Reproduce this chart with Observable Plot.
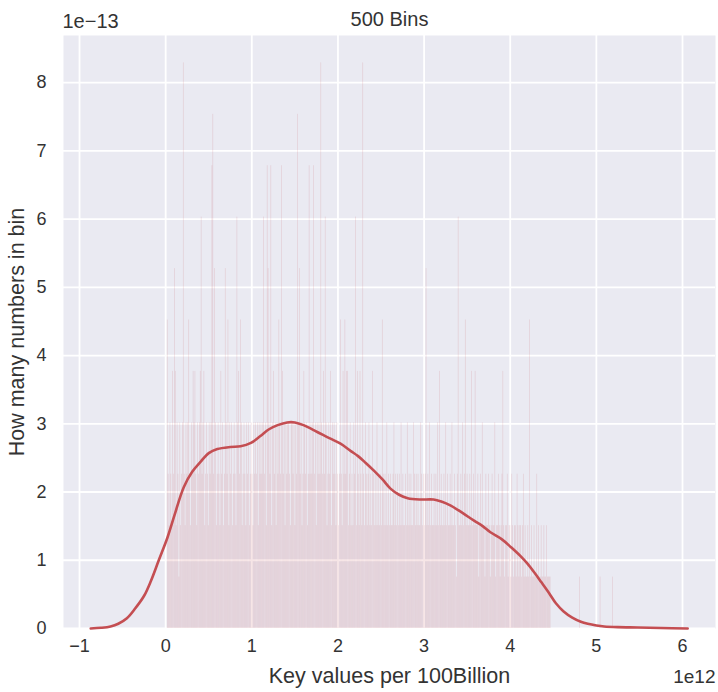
<!DOCTYPE html>
<html><head><meta charset="utf-8">
<script src="https://cdn.jsdelivr.net/npm/d3@7"></script>
<script src="https://cdn.jsdelivr.net/npm/@observablehq/plot@0.6"></script>
<style>body{margin:0;background:#fff}#chart svg{display:block}</style>
</head><body><div id="chart"></div>
<script>
// ---- text ----
const titleText = "500 Bins";
const xLabel = "Key values per 100Billion";
const yLabel = "How many numbers in bin";
const xOffsetText = "1e12";
const yOffsetText = "1e\u221213";

// ---- tick values (x in units of 1e12, y in units of 1e-13) ----
const xTicks = [-1, 0, 1, 2, 3, 4, 5, 6];
const yTicks = [0, 1, 2, 3, 4, 5, 6, 7, 8];

// ---- histogram: 500 bins between data min and max (units of 1e12) ----
const binLow = 0.02;
const binHigh = 5.2;
const densityPerCount = 0.7535; // density of one count, units of 1e-13
const binCounts = [
  6,3,2,4,3,2,5,3,7,5,2,4,3,1,4,2,3,4,11,3,
  2,4,3,4,6,3,2,4,3,5,4,5,3,2,4,3,4,5,8,3,
  4,5,2,3,4,3,2,4,3,4,9,10,3,7,4,2,3,4,3,2,
  5,3,4,2,3,7,4,3,6,2,4,3,4,2,3,4,3,2,8,4,
  5,3,6,4,2,3,4,3,2,4,3,4,2,3,4,3,2,4,3,4,
  3,4,2,4,3,4,3,4,8,3,4,2,9,7,4,3,9,2,4,5,
  3,4,2,4,3,6,4,3,9,5,3,4,2,4,3,4,4,3,2,4,
  4,3,4,2,4,3,10,4,7,3,4,2,3,5,4,3,4,2,3,9,
  3,4,3,4,9,3,4,2,4,3,4,3,11,4,3,5,3,8,4,2,
  3,4,3,5,2,4,3,4,3,2,4,3,2,3,6,3,2,5,3,6,
  3,5,5,2,3,4,2,3,2,4,3,8,2,5,3,2,5,3,2,11,
  3,2,4,3,2,3,4,2,3,2,5,3,2,3,2,4,2,3,2,3,
  2,6,3,2,3,2,4,2,3,2,3,2,2,3,4,2,3,2,3,2,
  3,2,4,2,3,2,2,3,2,4,2,3,2,3,2,2,4,3,2,3,
  2,3,2,2,4,3,2,3,2,3,7,2,3,2,4,2,3,2,2,3,
  2,3,2,4,2,5,2,3,2,2,3,2,4,2,3,2,2,3,2,4,
  2,2,3,2,1,3,8,2,2,3,2,4,2,3,6,2,3,2,2,3,
  2,5,2,3,2,5,2,2,3,1,2,3,2,4,2,2,1,3,2,2,
  3,2,1,2,3,2,2,4,1,2,2,3,2,1,2,3,5,2,1,2,
  2,3,1,2,2,1,3,2,1,2,2,1,3,2,1,2,2,1,2,3,
  1,2,1,1,2,1,6,1,2,1,1,2,1,1,3,1,2,1,1,2,
  1,1,2,1,1,2,1,1,1,1,0,0,0,0,0,0,0,0,0,0,
  0,0,0,0,0,0,0,0,0,0,0,0,0,0,0,0,0,0,0,0,
  0,0,1,0,0,0,0,0,0,0,0,0,0,0,0,0,0,0,0,0,
  0,0,0,0,0,1,0,0,0,0,0,0,0,0,0,0,0,0,0,1
];

// ---- KDE curve (x in 1e12, density in 1e-13) ----
const kdeX = [-0.87,-0.75,-0.64,-0.55,-0.45,-0.35,-0.25,-0.17,-0.08,0.02,0.1,0.21,0.31,0.41,0.5,0.6,0.75,0.87,0.99,1.1,1.2,1.3,1.41,1.5,1.6,1.76,1.9,2.03,2.15,2.23,2.32,2.42,2.52,2.61,2.71,2.81,2.95,3.11,3.2,3.31,3.45,3.58,3.68,3.77,3.9,4.01,4.12,4.2,4.28,4.36,4.45,4.53,4.62,4.72,4.82,4.9,5.0,5.09,5.25,5.48,5.75,6.06];
const kdeY = [0,0.01,0.03,0.07,0.15,0.3,0.48,0.70,1.0,1.33,1.65,2.07,2.3,2.45,2.57,2.63,2.66,2.67,2.72,2.82,2.92,2.98,3.02,3.02,2.98,2.88,2.79,2.71,2.6,2.53,2.43,2.31,2.18,2.05,1.96,1.91,1.89,1.89,1.86,1.80,1.69,1.58,1.5,1.41,1.31,1.19,1.06,0.95,0.82,0.68,0.52,0.37,0.25,0.16,0.1,0.07,0.045,0.03,0.02,0.015,0.008,0];

// ---- build tables ----
const binWidth = (binHigh - binLow) / binCounts.length;
const bins = binCounts.map((c, i) => ({
  x1: binLow + i * binWidth,
  x2: binLow + (i + 1) * binWidth,
  y: c * densityPerCount
})).filter(d => d.y > 0);
const kde = kdeX.map((x, i) => ({x, y: kdeY[i]}));

const red = "#C44E52";
const ink = "#333333";
const fmt = d => (d < 0 ? "\u2212" + Math.abs(d) : String(d));

const chart = Plot.plot({
  width: 718,
  height: 692,
  marginLeft: 63,
  marginRight: 3,
  marginTop: 35,
  marginBottom: 64,
  style: {fontFamily: "'Liberation Sans', Arial, sans-serif", fontSize: "18px", color: ink, background: "#fff"},
  x: {domain: [-1.186, 6.383]},
  y: {domain: [0, 8.69]},
  marks: [
    Plot.frame({fill: "#EAEAF2", stroke: null}),
    Plot.gridX(xTicks, {stroke: "#fff", strokeOpacity: 1, strokeWidth: 1.8}),
    Plot.gridY(yTicks, {stroke: "#fff", strokeOpacity: 1, strokeWidth: 1.8}),
    Plot.rectY(bins, {x1: "x1", x2: "x2", y1: 0, y2: "y", fill: red, fillOpacity: 0.17, insetRight: 0.15}),
    Plot.line(kde, {x: "x", y: "y", stroke: red, strokeWidth: 2.6, curve: "catmull-rom"}),
    Plot.axisX(xTicks, {tickSize: 0, tickPadding: 11, tickFormat: fmt, fontSize: 18, fill: ink, label: null}),
    Plot.axisY(yTicks, {tickSize: 0, tickPadding: 17, tickFormat: fmt, fontSize: 18, fill: ink, label: null}),
    Plot.text([titleText], {frameAnchor: "top", dy: -24, fontSize: 20, fill: ink}),
    Plot.text([yOffsetText], {frameAnchor: "top-left", dy: -22, dx: -1, textAnchor: "start", fontSize: 20, fill: ink}),
    Plot.text([xLabel], {frameAnchor: "bottom", dy: 54, fontSize: 21.5, fill: ink}),
    Plot.text([xOffsetText], {frameAnchor: "bottom-right", dy: 54, textAnchor: "end", fontSize: 19, fill: ink}),
    Plot.text([yLabel], {frameAnchor: "left", dx: -46, rotate: -90, textAnchor: "middle", fontSize: 21.5, fill: ink})
  ]
});
document.getElementById("chart").appendChild(chart);
</script>
</body></html>
